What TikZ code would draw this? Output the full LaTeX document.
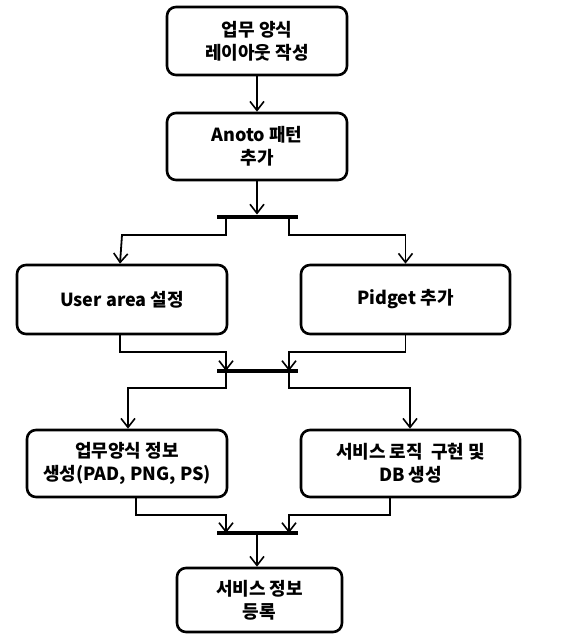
\documentclass[tikz,border=0pt]{standalone}
\usepackage{fontspec}
\setmainfont{Noto Sans CJK KR}[UprightFont=* Black, BoldFont=* Black]
\usetikzlibrary{arrows.meta}
\tikzset{
  box/.style={draw, line width=2.6pt, rounded corners=9pt, align=center,
    font=\fontsize{18}{23}\selectfont, inner sep=0pt},
  bar/.style={fill=black, draw=none, minimum width=81pt, minimum height=4.5pt, inner sep=0pt},
  conn/.style={line width=1.8pt},
  arr/.style={conn, -{Straight Barb[length=9pt, width=14pt, line width=1.6pt]}},
}
\begin{document}
\begin{tikzpicture}[x=1pt, y=-1pt]
\useasboundingbox[fill=white] (0,0) rectangle (585,634);
% boxes
\node[box, minimum width=180pt, minimum height=68pt] (b1) at (257,41) {업무 양식\\레이아웃 작성};
\node[box, minimum width=180pt, minimum height=67pt] (b2) at (257,146.5) {Anoto 패턴\\추가};
\node[box, minimum width=210pt, minimum height=69pt] (b3) at (122,299.5) {User area 설정};
\node[box, minimum width=209pt, minimum height=69pt] (b4) at (405.5,299.5) {Pidget 추가};
\node[box, minimum width=200pt, minimum height=67pt] (b5) at (127,463.5) {업무양식 정보\\생성(PAD, PNG, PS)};
\node[box, minimum width=219pt, minimum height=67pt] (b6) at (410.5,463.5) {서비스 로직\ \ 구현 및\\DB 생성};
\node[box, minimum width=165pt, minimum height=64pt] (b7) at (259.5,600) {서비스 정보\\등록};
% bars
\node[bar] (r1) at (257.5,217) {};
\node[bar] (r2) at (257.5,371) {};
\node[bar] (r3) at (257.5,533) {};
% connectors
\draw[arr] (b1.south -| 257,0) -- (b2.north -| 257,0);
\draw[arr] (b2.south -| 257,0) -- (r1.north -| 257,0);
% fork 1
\coordinate (f1l) at (226,217);
\coordinate (f1r) at (289,217);
\draw[arr] (f1l) |- (0,235 -| b3.north) -- (b3.north -| 120,0);
\draw[arr] (f1r) |- (0,235 -| b4.north) -- (b4.north);
% join 1
\coordinate (j1l) at (226,371);
\coordinate (j1r) at (289,371);
\draw[arr] (b3.south -| 120,0) |- (226,352) -- (j1l);
\draw[arr] (b4.south) |- (289,352) -- (j1r);
% fork 2
\draw[arr] (j1l) |- (128,388) -- (b5.north -| 128,0);
\draw[arr] (j1r) |- (410,388) -- (b6.north -| 410,0);
% join 2
\coordinate (j2l) at (226,533);
\coordinate (j2r) at (289,533);
\draw[arr] (b5.south -| 136,0) |- (226,515) -- (j2l);
\draw[arr] (b6.south -| 390,0) |- (289,515) -- (j2r);
\draw[arr] (r3.south -| 257,0) -- (b7.north -| 257,0);
\end{tikzpicture}
\end{document}
